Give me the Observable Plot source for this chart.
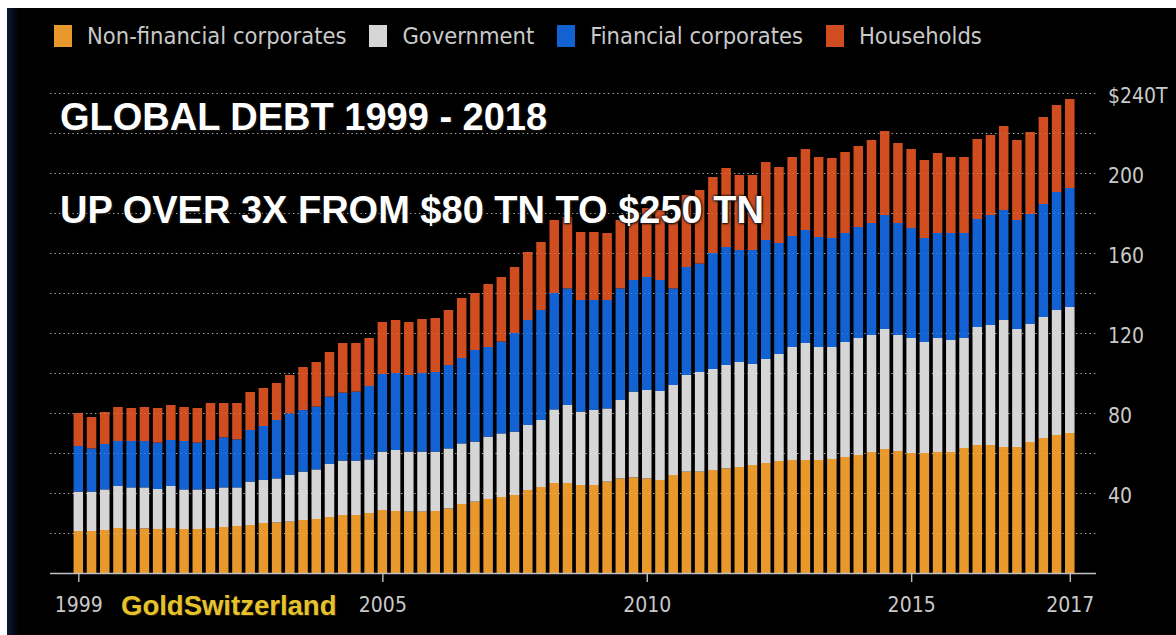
<!DOCTYPE html>
<html>
<head>
<meta charset="utf-8">
<script src="https://cdn.jsdelivr.net/npm/d3@7"></script>
<script src="https://cdn.jsdelivr.net/npm/@observablehq/plot@0.6"></script>
<style>
  html, body { margin: 0; padding: 0; background: #ffffff; }
  #wrap { position: relative; width: 1176px; height: 635px; background: #000; overflow: hidden; }
  #topstrip { position: absolute; left: 0; top: 0; width: 1176px; height: 8px; background: #fff; }
  #leftstrip { position: absolute; left: 0; top: 0; width: 7px; height: 635px; background: #fff; }
  #leftnavy { position: absolute; left: 7px; top: 8px; width: 12px; height: 627px; background: linear-gradient(to right, #0b1a36, #000); }
  #legend { position: absolute; left: 54px; top: 22px; display: flex; align-items: center; gap: 0; 
            font-family: "DejaVu Sans Condensed", "DejaVu Sans", sans-serif; font-stretch: condensed; font-size: 23.5px; color: #c9c9c9; }
  .item { display: flex; align-items: center; margin-right: 23px; }
  .sw { width: 18px; height: 22px; margin-right: 15px; }
  #chart { position: absolute; left: 0; top: 62px; }
  .headline { position: absolute; left: 60px; font-family: "Liberation Sans", Arial, sans-serif; font-weight: bold;
              font-size: 38px; line-height: 38px; color: #fff; white-space: nowrap;
              text-shadow: 0 0 3px #000, 0 0 2px #000, 1px 1px 2px #333; }
  #brand { position: absolute; left: 121px; top: 592px; font-family: "Liberation Sans", Arial, sans-serif; font-weight: bold;
           font-size: 27.5px; line-height: 27.5px; color: #e6c22c; white-space: nowrap; text-shadow: 1px 1px 1px #3a2a00; }
</style>
</head>
<body>
<div id="wrap">
  <div id="topstrip"></div>
  <div id="leftstrip"></div>
  <div id="leftnavy"></div>
  <div id="legend"></div>
  <div id="chart"></div>
  <div class="headline" style="top:98px">GLOBAL DEBT 1999 - 2018</div>
  <div class="headline" style="top:191px">UP OVER 3X FROM $80 TN TO $250 TN</div>
  <div id="brand">GoldSwitzerland</div>
</div>
<script>
// ---- Data (US$ trillions, quarterly 1999 Q1 – 2017 Q4) ----
const years = d3.range(1999, 2018);
const quarterNames = ["Q1", "Q2", "Q3", "Q4"];
const quarters = years.flatMap(y => quarterNames.map(q => `${y} ${q}`));

const seriesNames = ["Non-financial corporates", "Government", "Financial corporates", "Households"];
const seriesColors = ["#e9982c", "#d6d6d6", "#1262d4", "#d04d1f"];

const nonFinancial = [21,21,21.5,22.5,22,22.3,22,22.5,22,22,
  22.5,23,23.5,24,25,25.3,25.7,26.5,27,28,
  29,29,30,31.5,31,30.7,30.7,31,32.3,34.5,
  35.7,37,38,39,41.5,43,45,45,44,44,
  45.7,47.3,47.8,47.3,46.5,49,50.7,50.7,51.5,52.3,
  53,54,55,56,56.5,56.5,56.5,57,58,59,
  60.5,62,61,60,60,60.5,60.5,62.5,64,64,
  63,63,65.5,67.5,69,70];
const government = [19.7,19.7,20.3,21,20.8,20.5,20,21,19.8,19.8,
  19.7,19.8,19.3,21.7,21.5,22,23.3,24.2,24.8,26.5,
  27.2,27.2,26.8,29.2,30.5,30,30,29.7,30,30.3,
  30,31.2,31.8,31.7,32.5,33.5,36.8,39,36.7,37.5,
  36.6,39.2,42.9,44.2,44.5,45,48.3,49.8,50.5,51.7,
  52.5,50.5,52,53.5,56.5,58.5,56.5,56,57.5,58.5,
  58.5,60,58,57.5,55.5,57,56,55,59,60,
  63.5,59,59,60.5,62.5,63];
const financial = [22.8,21.6,22.7,22.5,23.2,23.2,23.2,23,24.2,23.4,
  24.3,25,24,25.8,27,29.2,30.8,30.8,31.4,33.7,
  34,34.5,36.7,38.8,38.5,38.3,39.3,39.8,41.7,42.7,
  45.8,44.8,45.9,49.3,52.5,55,58.2,58.3,55.8,55,
  54.2,55.8,55.8,56.5,55.5,48.3,54,54.2,58,59,
  56,57,59.5,55.5,55.5,56.5,55,54.5,54.5,55.5,
  56,57,56,55,52,52.5,53.5,52.5,54,55,
  55,54.5,55,56.5,59,59.5];
const households = [16.5,15.7,16,17,16.5,17,17.3,17.5,17,17.3,
  18.5,17.2,18.2,19,19,18.5,19.2,21.5,22.3,22.3,
  24.8,24.3,24,26,26.5,26.5,27,27,27.5,30,
  28.5,31.5,32.3,33,34,34,36.5,35.7,34,34,
  33.5,34.2,34,34.5,35,34.7,36,36.8,38,39.5,
  37.5,37.5,39,38,39.5,40.5,40,40,40.5,40.5,
  41.5,42,40,39.5,39,40,38,38,40,40,
  42,40,41,43.5,43.5,44.5];

const tickQuarters = ["1999 Q1", "2004 Q4", "2009 Q4", "2014 Q4", "2017 Q4"];
const tickLabels = ["1999", "2005", "2010", "2015", "2017"];
const yTicks = [40, 80, 120, 160, 200, 240];
const yGrid = [20, 40, 60, 80, 100, 120, 140, 160, 180, 200, 220, 240];

// ---- Legend ----
const legend = document.getElementById("legend");
seriesNames.forEach((name, i) => {
  const item = document.createElement("div");
  item.className = "item";
  const sw = document.createElement("div");
  sw.className = "sw";
  sw.style.background = seriesColors[i];
  const label = document.createElement("span");
  label.textContent = name;
  item.appendChild(sw);
  item.appendChild(label);
  legend.appendChild(item);
});

// ---- Long table for the stacked bars ----
const seriesValues = [nonFinancial, government, financial, households];
const rows = [];
quarters.forEach((q, i) => {
  seriesNames.forEach((s, j) => rows.push({quarter: q, series: s, value: seriesValues[j][i]}));
});

const axisFont = '"DejaVu Sans Condensed", "DejaVu Sans", sans-serif';

const chart = Plot.plot({
  width: 1176,
  height: 573,
  marginTop: 31,
  marginBottom: 62,
  marginLeft: 71.7,
  marginRight: 99.6,
  style: {background: "transparent", color: "#c8c8c8", fontFamily: axisFont, fontSize: "21px", fontStretch: "condensed"},
  x: {type: "band", domain: quarters, paddingInner: 0.28, paddingOuter: 0.14, round: false, axis: null},
  y: {domain: [0, 240], axis: null},
  color: {domain: seriesNames, range: seriesColors},
  marks: [
    Plot.ruleY(yGrid, {stroke: "#a0a0a0", strokeWidth: 1.2, strokeDasharray: "1.3,3.2", insetLeft: -21.7, insetRight: -19.6}),
    Plot.barY(rows, Plot.stackY({x: "quarter", y: "value", fill: "series", order: seriesNames})),
    Plot.ruleY(yGrid, {stroke: "#ffffff", strokeOpacity: 0.18, strokeWidth: 1, strokeDasharray: "1.3,3.2", insetLeft: -21.7, insetRight: -19.6}),
    Plot.ruleY([0], {stroke: "#c0c0c0", strokeWidth: 1.6, insetLeft: -21.7, insetRight: -19.6}),
    Plot.axisX({ticks: tickQuarters, tickFormat: d => tickLabels[tickQuarters.indexOf(d)], tickSize: 9, tickPadding: 15,
                stroke: "#c0c0c0", strokeWidth: 1.4, fill: "#c8c8c8", fontSize: 21, label: null}),
    Plot.axisY({anchor: "right", ticks: yTicks, tickSize: 0, tickPadding: 31, dy: 3,
                tickFormat: d => d === 240 ? "$240T" : String(d), fill: "#c8c8c8", fontSize: 21, label: null})
  ]
});
document.getElementById("chart").appendChild(chart);
</script>
</body>
</html>
